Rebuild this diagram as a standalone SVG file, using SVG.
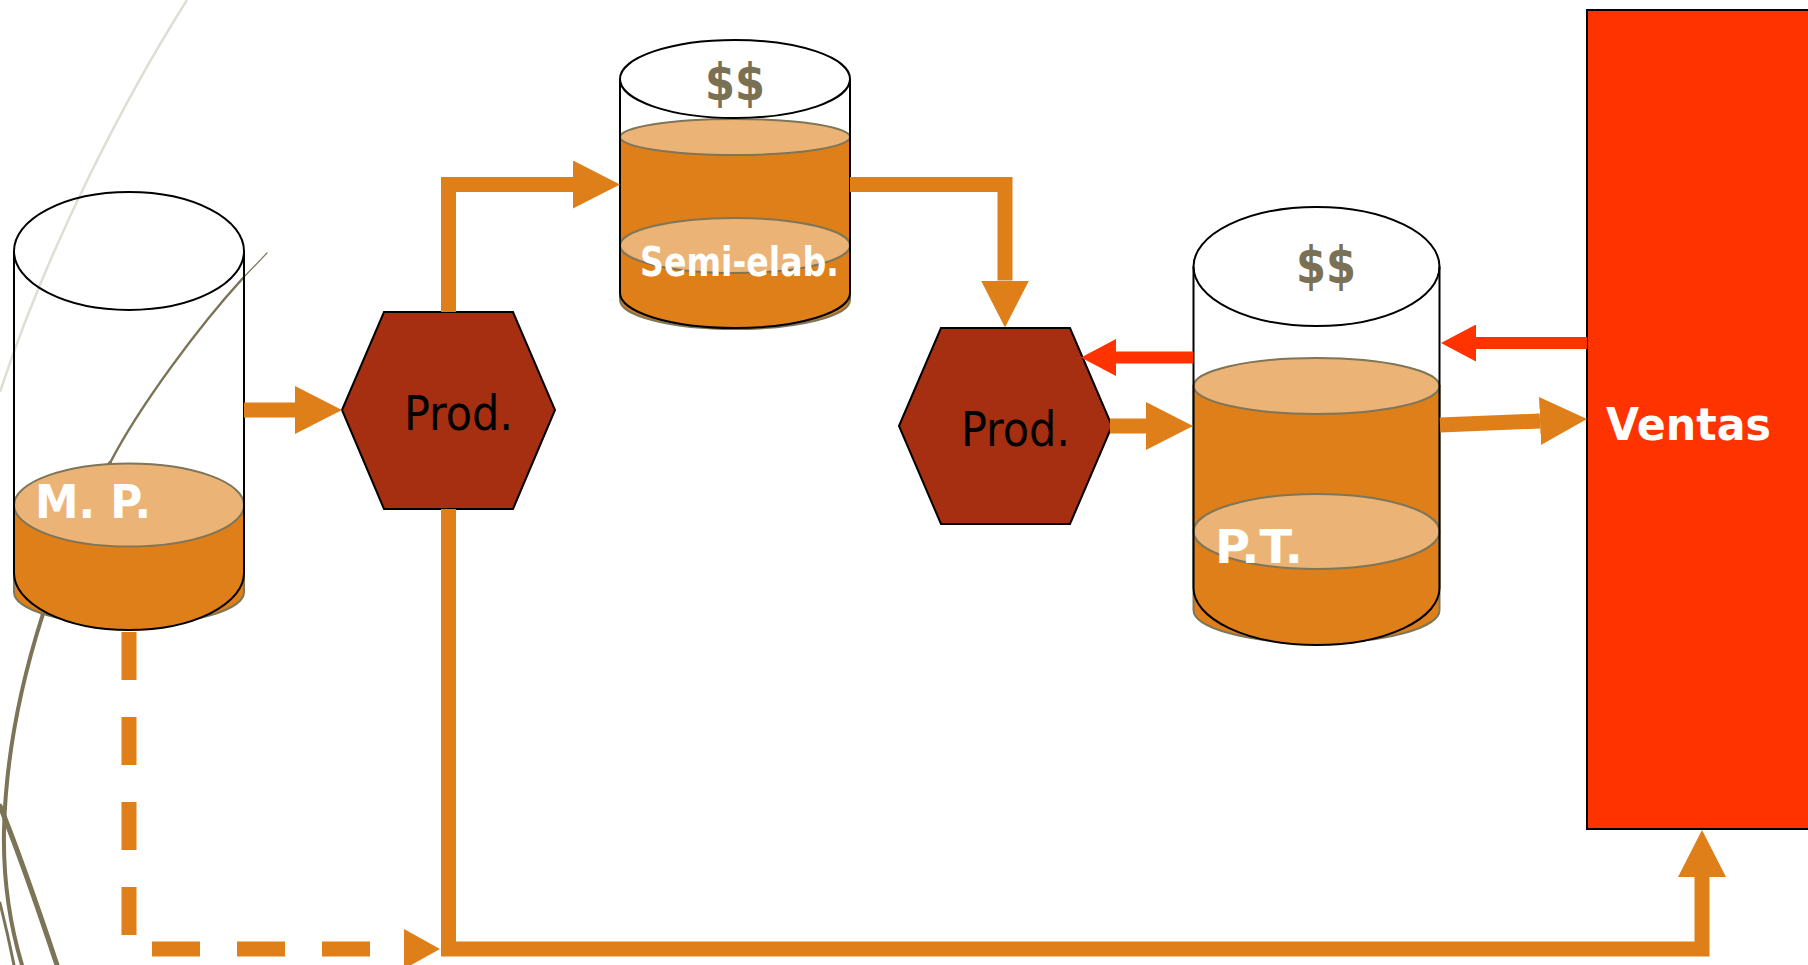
<svg xmlns="http://www.w3.org/2000/svg" width="1808" height="965" viewBox="0 0 1808 965">
<style>
.liq{fill:#de7f1a;stroke:#7f7557;stroke-width:2}
.liqtop{fill:#ecb377;stroke:#7f7557;stroke-width:2}
.bot{fill:#de7f1a;stroke:#000;stroke-width:2}
.edge{fill:none;stroke:#000;stroke-width:2}
.hex{fill:#a52f10;stroke:#000;stroke-width:2}
.lbl{font-family:"DejaVu Sans","Verdana",sans-serif;font-weight:bold;fill:#fff}
.usd{font-family:"DejaVu Sans","Verdana",sans-serif;font-weight:bold;fill:#7a7155}
.prod{font-family:"DejaVu Sans Condensed","DejaVu Sans",sans-serif;font-stretch:condensed;fill:#000}
.oc{fill:none;stroke:#de7f1a;stroke-width:15;stroke-linejoin:miter}
.rc{fill:none;stroke:#ff3300;stroke-width:12}
.deco{fill:none;stroke:#7b7456;stroke-linecap:round}
</style>
<defs>
<marker id="ah" markerUnits="userSpaceOnUse" viewBox="0 0 47 48" refX="0" refY="24" markerWidth="47" markerHeight="48" orient="auto">
<path d="M0,0 L47,24 L0,48 Z" fill="#de7f1a"/>
</marker>
<marker id="ahd" markerUnits="userSpaceOnUse" viewBox="0 0 36 40" refX="0" refY="20" markerWidth="36" markerHeight="40" orient="auto">
<path d="M0,0 L36,20 L0,40 Z" fill="#de7f1a"/>
</marker>
<marker id="ahr" markerUnits="userSpaceOnUse" viewBox="0 0 35 37" refX="0" refY="18.5" markerWidth="35" markerHeight="37" orient="auto">
<path d="M0,0 L35,18.5 L0,37 Z" fill="#ff3300"/>
</marker>
</defs>
<rect width="1808" height="965" fill="#fff"/>
<g id="decoration">
<path d="M187,0 C130,90 50,240 0,392" fill="none" stroke="#deded6" stroke-width="2.5"/>
<path class="deco" d="M267,253 L243,278" stroke-width="1.2"/>
<path class="deco" d="M243,278 C200,325 140,405 110,463" stroke-width="2.5"/>
<path class="deco" d="M110,463 C80,520 55,570 42,617 C22,680 6,750 4,830 C3,880 10,925 22,965" stroke-width="4"/>
<path class="deco" d="M0,806 Q22,860 57,965" stroke-width="5"/>
<path class="deco" d="M0,903 Q8,935 14,965" stroke-width="3"/>
</g>
<g id="mp">
<path class="liq" d="M14,505 V592 A115,33 0 0 0 244,592 V505 Z"/>
<path class="bot" d="M14,573 A115,57 0 0 0 244,573"/>
<ellipse class="liqtop" cx="129" cy="505" rx="115" ry="41.5"/>
<path class="edge" d="M14,251 V573 M244,251 V573"/>
<ellipse class="edge" cx="129" cy="251" rx="115" ry="59"/>
<text class="lbl" x="35" y="518" font-size="47" textLength="116" lengthAdjust="spacingAndGlyphs">M. P.</text>
</g>
<g id="semi">
<path class="liq" d="M620,137 V300 A115,29 0 0 0 850,300 V137 Z"/>
<path class="bot" d="M620,293 A115,35 0 0 0 850,293"/>
<ellipse class="liqtop" cx="735" cy="137" rx="115" ry="18"/>
<ellipse class="liqtop" cx="735" cy="245.5" rx="115" ry="27.5"/>
<path class="edge" d="M620,79 V293 M850,79 V293"/>
<ellipse class="edge" cx="735" cy="79" rx="115" ry="39"/>
<text class="usd" x="705" y="100" font-size="52" textLength="60" lengthAdjust="spacingAndGlyphs">$$</text>
<text class="lbl" x="640" y="276" font-size="41" textLength="199" lengthAdjust="spacingAndGlyphs">Semi-elab.</text>
</g>
<g id="pt">
<path class="liq" d="M1193.5,386 V610 A123,33 0 0 0 1439.5,610 V386 Z"/>
<path class="bot" d="M1193.5,588 A123,57 0 0 0 1439.5,588"/>
<ellipse class="liqtop" cx="1316.5" cy="386" rx="123" ry="28"/>
<ellipse class="liqtop" cx="1316.5" cy="531.5" rx="123" ry="37.5"/>
<path class="edge" d="M1193.5,266.5 V588 M1439.5,266.5 V588"/>
<ellipse class="edge" cx="1316.5" cy="266.5" rx="123" ry="59.5"/>
<text class="usd" x="1296" y="283" font-size="52" textLength="60" lengthAdjust="spacingAndGlyphs">$$</text>
<text class="lbl" x="1215" y="563" font-size="47" textLength="88" lengthAdjust="spacingAndGlyphs">P.T.</text>
</g>
<g id="prod1">
<polygon class="hex" points="342,410 384,312 513,312 555,410 513,509 384,509"/>
<text class="prod" x="404" y="430" font-size="48" textLength="109" lengthAdjust="spacingAndGlyphs">Prod.</text>
</g>
<g id="prod2">
<polygon class="hex" points="899,426 941,328 1070,328 1112,426 1070,524 941,524"/>
<text class="prod" x="961" y="446" font-size="48" textLength="109" lengthAdjust="spacingAndGlyphs">Prod.</text>
</g>
<g id="ventas">
<rect x="1587" y="10" width="240" height="819" fill="#ff3300" stroke="#000" stroke-width="2"/>
<text class="lbl" x="1606" y="440" font-size="45" textLength="165" lengthAdjust="spacingAndGlyphs">Ventas</text>
</g>
<g id="connectors">
<path class="oc" stroke-width="14" d="M244,410 H295" marker-end="url(#ah)"/>
<path class="oc" d="M448.5,312 V184.5 H573" marker-end="url(#ah)"/>
<path class="oc" d="M850,184.5 H1005 V280.5" marker-end="url(#ah)"/>
<path class="oc" d="M1110,426 H1146" marker-end="url(#ah)"/>
<path class="oc" d="M1440,425 L1540,421" marker-end="url(#ah)"/>
<path class="oc" d="M448.5,509 V949 H1702 V877" marker-end="url(#ah)"/>
<path class="oc" stroke-width="12" stroke-dasharray="48 37" d="M129,632 V949 H404" marker-end="url(#ahd)"/>
<path class="rc" d="M1587,343 H1476" marker-end="url(#ahr)"/>
<path class="rc" d="M1193.5,357.5 H1116" marker-end="url(#ahr)"/>
</g>
</svg>
